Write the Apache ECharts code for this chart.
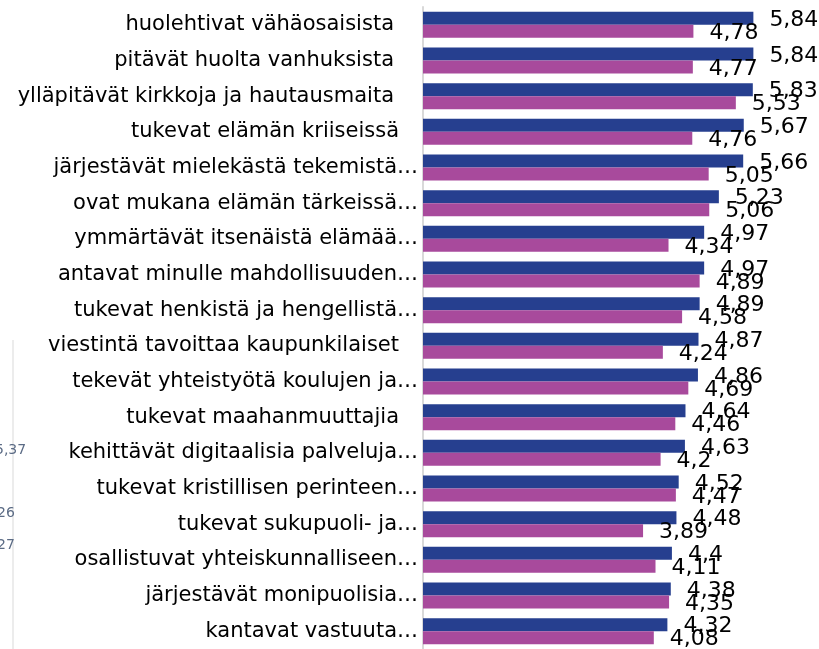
<!DOCTYPE html>
<html>
<head>
<meta charset="utf-8">
<script src="https://cdn.jsdelivr.net/npm/echarts@6/dist/echarts.min.js"></script>
<style>
  html, body { margin: 0; padding: 0; background: #fff; }
  #chart { width: 819px; height: 649px; }
</style>
</head>
<body>
<div id="chart"></div>
<script>
// kategoriat ylhäältä alas (osassa nimiä loppuvälilyönti kuten lähteessä)
var categories = [
    'huolehtivat vähäosaisista ',
    'pitävät huolta vanhuksista ',
    'ylläpitävät kirkkoja ja hautausmaita ',
    'tukevat elämän kriiseissä',
    'järjestävät mielekästä tekemistä…',
    'ovat mukana elämän tärkeissä…',
    'ymmärtävät itsenäistä elämää…',
    'antavat minulle mahdollisuuden…',
    'tukevat henkistä ja hengellistä…',
    'viestintä tavoittaa kaupunkilaiset',
    'tekevät yhteistyötä koulujen ja…',
    'tukevat maahanmuuttajia',
    'kehittävät digitaalisia palveluja…',
    'tukevat kristillisen perinteen…',
    'tukevat sukupuoli- ja…',
    'osallistuvat yhteiskunnalliseen…',
    'järjestävät monipuolisia…',
    'kantavat vastuuta…'
];
var seriesA = [5.84, 5.84, 5.83, 5.67, 5.66, 5.23, 4.97, 4.97, 4.89, 4.87, 4.86, 4.64, 4.63, 4.52, 4.48, 4.4, 4.38, 4.32];
var seriesB = [4.78, 4.77, 5.53, 4.76, 5.05, 5.06, 4.34, 4.89, 4.58, 4.24, 4.69, 4.46, 4.2, 4.47, 3.89, 4.11, 4.35, 4.08];

var FONT = 'DejaVu Sans';

var fmt = function (p) {
    return String(p.value).replace('.', ',');
};

var myChart = echarts.init(document.getElementById('chart'));
var option = {
    animation: false,
    backgroundColor: '#fff',
    grid: { left: 423, right: 0, top: 7, bottom: 0, containLabel: false },
    xAxis: {
        type: 'value',
        min: 0,
        max: 7,
        show: false
    },
    yAxis: {
        type: 'category',
        inverse: true,
        data: categories,
        axisLine: { show: true, lineStyle: { color: '#d9d9d9', width: 2 } },
        axisTick: { show: false },
        axisLabel: {
            margin: 5,
            formatter: function (v) {
                if (v.slice(-1) === '…') return '{t|' + v + '}';
                if (v.slice(-1) === ' ') return '{q|' + v.trim() + '}';
                return '{p|' + v + '}';
            },
            rich: {
                t: { fontFamily: FONT, fontSize: 21, color: '#000' },
                p: { fontFamily: FONT, fontSize: 21, color: '#000', padding: [0, 19, 0, 0] },
                q: { fontFamily: FONT, fontSize: 21, color: '#000', padding: [0, 24, 0, 0] }
            }
        }
    },
    series: [
        {
            name: 'Sarja 1',
            type: 'bar',
            data: seriesA,
            barWidth: 13,
            barGap: '0%',
            itemStyle: { color: '#263f8f' },
            label: {
                show: true,
                position: 'right',
                distance: 16,
                offset: [0, 2],
                formatter: fmt,
                fontFamily: FONT,
                fontSize: 22,
                color: '#000'
            }
        },
        {
            name: 'Sarja 2',
            type: 'bar',
            data: seriesB,
            barWidth: 13,
            itemStyle: { color: '#a84a9c' },
            label: {
                show: true,
                position: 'right',
                distance: 16,
                offset: [0, 2],
                formatter: fmt,
                fontFamily: FONT,
                fontSize: 22,
                color: '#000'
            }
        }
    ],
    graphic: [
        // vasemman reunan jäänteet viereisestä kaaviosta
        { type: 'line', shape: { x1: 13, y1: 340, x2: 13, y2: 649 }, style: { stroke: '#d9d9d9', lineWidth: 1 } },
        { type: 'text', left: -5, top: 443, style: { text: '5,37', fill: '#5b6b85', font: '14px ' + FONT } },
        { type: 'text', left: -3, top: 506, style: { text: '26', fill: '#5b6b85', font: '14px ' + FONT } },
        { type: 'text', left: -3, top: 538, style: { text: '27', fill: '#5b6b85', font: '14px ' + FONT } }
    ]
};
myChart.setOption(option);
</script>
</body>
</html>
